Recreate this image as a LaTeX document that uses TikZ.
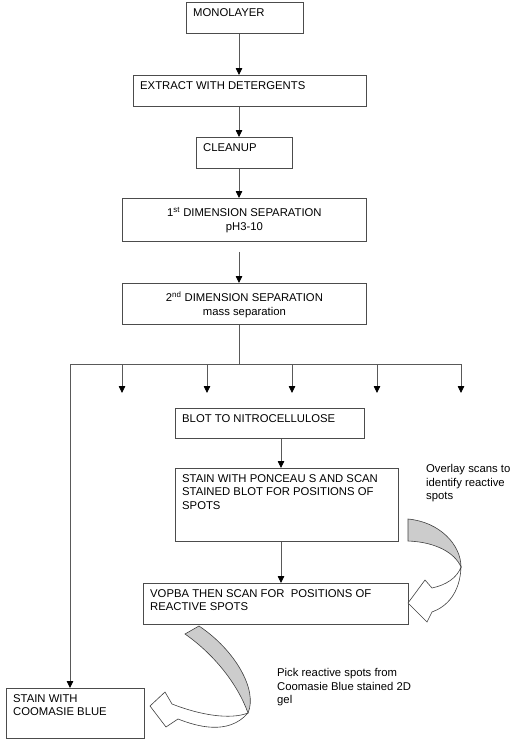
\documentclass[tikz,border=0pt]{standalone}
\usepackage{fontspec}
\setmainfont{Liberation Sans}
\usepackage{tikz}
\usetikzlibrary{arrows.meta, calc}

\tikzset{%
  stepbox/.style 2 args={draw=black!70, line width=0.8pt, fill=white,
    anchor=north west, inner sep=0pt, minimum width=#1pt, minimum height=#2pt},
  steptext/.style={anchor=north west, align=left, inner xsep=7pt, inner ysep=6pt},
  midtext/.style={anchor=north, align=center, inner sep=0pt, yshift=-9pt},
  note/.style={anchor=north west, align=left, inner sep=0pt},
  link/.style={draw=black!65, line width=0.8pt},
  flow/.style={link, -{Triangle[length=7pt,width=6.5pt,color=black]}},
  ribbon/.style={draw=black!75, line width=0.6pt, fill=black!20},
  ribbonfront/.style={draw=black!75, line width=0.6pt, fill=white},
}

\begin{document}
\begin{tikzpicture}[%
  x=1pt, y=-1pt,%
  every node/.append style={font=\fontsize{11.3}{13.8}\selectfont}%
  ]
  \useasboundingbox (0,0) rectangle (512,745);
% boxes
  \node[stepbox={117}{31}] (mono) at (186,2) {};
  \node[steptext] (mono-t) at (mono.north west) {MONOLAYER};
  \node[stepbox={233}{31}] (extract) at (133,75) {};
  \node[steptext] (extract-t) at (extract.north west) {EXTRACT WITH DETERGENTS};
  \node[stepbox={96}{31}] (cleanup) at (196,137) {};
  \node[steptext] (cleanup-t) at (cleanup.north west) {CLEANUP};
  \node[stepbox={244}{43}] (dim1) at (122,198) {};
  \node[midtext] (dim1-t) at (dim1.north) {1\textsuperscript{st} DIMENSION SEPARATION\\pH3-10};
  \node[stepbox={244}{41}] (dim2) at (122,283) {};
  \node[midtext] (dim2-t) at (dim2.north) {2\textsuperscript{nd} DIMENSION SEPARATION\\mass separation};
  \node[stepbox={189}{30}] (blot) at (175,408) {};
  \node[steptext] (blot-t) at (blot.north west) {BLOT TO NITROCELLULOSE};
  \node[stepbox={223}{73}] (ponceau) at (175,468) {};
  \node[steptext] (ponceau-t) at (ponceau.north west) {STAIN WITH PONCEAU S AND SCAN\\STAINED BLOT FOR POSITIONS OF\\SPOTS};
  \node[stepbox={265}{41}] (vopba) at (143,583) {};
  \node[steptext] (vopba-t) at (vopba.north west) {VOPBA THEN SCAN FOR~ POSITIONS OF\\REACTIVE SPOTS};
  \node[stepbox={138}{50}] (coomasie) at (6,688) {};
  \node[steptext] (coomasie-t) at (coomasie.north west) {STAIN WITH\\COOMASIE BLUE};
% notes
  \node[note] (overlay) at (426,464) {Overlay scans to\\identify reactive\\spots};
  \node[note] (pick) at (277,668) {Pick reactive spots from\\Coomasie Blue stained 2D\\gel};
% main line
  \coordinate (spine) at (239,0);
  \coordinate (side) at (281,0);
  \draw[flow] (mono.south -| spine) -- (extract.north -| spine);
  \draw[flow] (extract.south -| spine) -- (cleanup.north -| spine);
  \draw[flow] (cleanup.south -| spine) -- (dim1.north -| spine);
  \draw[flow] ($(dim1.south -| spine)+(0,10)$) -- (dim2.north -| spine);
% split
  \coordinate (busl) at (70,364);
  \coordinate (busr) at (461,364);
  \draw[link] (dim2.south -| spine) -- (spine |- busl);
  \draw[link] (busl) -- (busr);
  \foreach \x [count=\i] in {122,207,292,377,461} {
    \coordinate (drop\i) at (\x,393);
    \draw[flow] (drop\i |- busl) -- (drop\i);
  }
  \draw[flow] (busl) -- (busl |- coomasie.north);
  \draw[flow] (blot.south -| side) -- (ponceau.north -| side);
  \draw[flow] (ponceau.south -| side) -- (vopba.north -| side);
% curved arrows
  \draw[ribbon] (408,519) .. controls (440,522) and (461,545) .. (461,567)
    .. controls (455,553) and (436,542) .. (408,541) -- cycle;
  \draw[ribbonfront] (461,567) .. controls (460,594) and (446,607) .. (432,612)
    -- (427,622) -- (408,603) -- (425,580) -- (432,588)
    .. controls (446,585) and (457,578) .. (461,567) -- cycle;
  \draw[ribbon] (185,634) -- (199,626) .. controls (235,650) and (258,690) .. (248,713)
    .. controls (238,685) and (215,655) .. (185,634) -- cycle;
  \draw[ribbonfront] (248,713) .. controls (228,736) and (196,726) .. (178,719)
    -- (166,727) -- (150,706) -- (165,692) -- (172,704)
    .. controls (200,715) and (230,720) .. (248,713) -- cycle;
\end{tikzpicture}
\end{document}
